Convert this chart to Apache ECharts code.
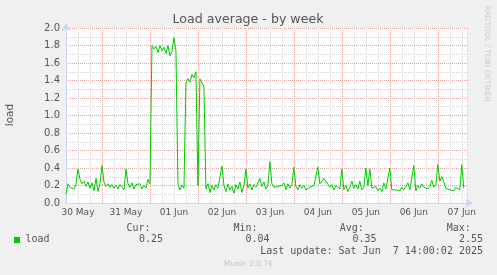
<!DOCTYPE html>
<html><head><meta charset="utf-8">
<script src="https://cdn.jsdelivr.net/npm/echarts@6/dist/echarts.min.js"></script>
<style>html,body{margin:0;padding:0;background:#f0f0f0;}#c{width:497px;height:275px;}</style>
</head><body><div id="c"></div>
<script>
// hours after 30 May 00:00
const startHour = 6;
const stepHours = 1;
const axisMinHour = 6;
const axisMaxHour = 206.6;
const loadValues = [
 0.10,0.22,0.18,0.20,0.16,0.21,
 0.39,0.27,0.22,0.25,0.19,0.24,
 0.17,0.23,0.14,0.28,0.13,0.22,
 0.43,0.24,0.19,0.22,0.18,0.21,
 0.17,0.20,0.16,0.21,0.19,0.15,
 0.39,0.22,0.18,0.23,0.16,0.21,
 0.19,0.22,0.16,0.20,0.17,0.27,
 0.22,1.80,1.76,1.79,1.72,1.80,
 1.74,1.78,1.71,1.80,1.68,1.73,
 1.89,1.74,0.22,0.15,0.20,0.17,
 1.38,1.42,1.38,1.47,1.43,1.50,
 0.20,1.42,1.40,1.33,0.16,0.22,
 0.12,0.20,0.15,0.21,0.17,0.19,
 0.42,0.20,0.13,0.22,0.15,0.19,
 0.11,0.21,0.16,0.24,0.12,0.20,
 0.39,0.17,0.22,0.15,0.21,0.18,
 0.23,0.28,0.19,0.24,0.16,0.20,
 0.47,0.22,0.18,0.17,0.19,0.18,
 0.20,0.23,0.15,0.22,0.17,0.21,
 0.41,0.19,0.15,0.21,0.17,0.20,
 0.15,0.16,0.18,0.20,0.20,0.19,
 0.41,0.22,0.24,0.28,0.25,0.27,
 0.18,0.21,0.15,0.20,0.19,0.16,
 0.39,0.15,0.20,0.13,0.18,0.25,
 0.17,0.21,0.16,0.25,0.15,0.18,
 0.40,0.20,0.39,0.17,0.15,0.19,
 0.14,0.17,0.13,0.23,0.16,0.15,
 0.40,0.15,0.14,0.15,0.16,0.14,
 0.18,0.15,0.14,0.23,0.15,0.17,
 0.43,0.14,0.20,0.17,0.22,0.18,
 0.20,0.16,0.19,0.26,0.18,0.21,
 0.44,0.25,0.30,0.24,0.17,0.19,
 0.15,0.17,0.14,0.18,0.16,0.15,
 0.44,0.17
];
const dayLabels = ['30 May','31 May','01 Jun','02 Jun','03 Jun','04 Jun','05 Jun','06 Jun','07 Jun'];
const midnightHours = [24, 48, 72, 96, 120, 144, 168, 192];
const yTickLabels = ['0.0','0.2','0.4','0.6','0.8','1.0','1.2','1.4','1.6','1.8','2.0'];
const seriesName = 'load';
const statLabels = ['Cur:','Min:','Avg:','Max:'];
const statValues = ['0.25','0.04','0.35','2.55'];
const titleText = 'Load average - by week';
const lastUpdate = 'Last update: Sat Jun  7 14:00:02 2025';
const footer = 'Munin 2.0.76';
const sideText = 'RRDTOOL / TOBI OETIKER';

const data = loadValues.map((v, i) => [startHour + i * stepHours, v]);
const MINOR = '#d4d4d4';
const MAJOR = '#e6a0a0';
const AXIS = '#cdd3f2';
const FONT = '#555555';
const MONO = '10px "DejaVu Sans Mono"';

const chart = echarts.init(document.getElementById('c'), null, {renderer: 'canvas'});
const statX = [126.5, 233.5, 339.8, 446.8];
const valX = [163, 269.5, 376.5, 483];
const graphic = [
  {type:'text', x:248, y:19.5, style:{text:titleText, fill:FONT, font:'12.6px "DejaVu Sans"', textAlign:'center', textVerticalAlign:'middle', align:'center', verticalAlign:'middle'}},
  {type:'text', x:10.7, y:115, rotation:Math.PI/2, style:{text:'load', fill:FONT, font:'10.5px "DejaVu Sans"', textAlign:'center', textVerticalAlign:'middle', align:'center', verticalAlign:'middle'}},
  {type:'text', x:487, y:53.5, rotation:-Math.PI/2, style:{text:sideText, fill:'#cccccc', font:'7.5px "DejaVu Sans"', textAlign:'center', textVerticalAlign:'middle', align:'center', verticalAlign:'middle'}},
  {type:'rect', shape:{x:14, y:237, width:6, height:6}, style:{fill:'#00cc00'}},
  {type:'text', x:25.5, y:239.5, style:{text:seriesName, fill:FONT, font:MONO, textAlign:'left', textVerticalAlign:'middle', align:'left', verticalAlign:'middle'}},
  {type:'text', x:483, y:251.5, style:{text:lastUpdate, fill:FONT, font:MONO, textAlign:'right', textVerticalAlign:'middle', align:'right', verticalAlign:'middle'}},
  {type:'text', x:248.5, y:264.5, style:{text:footer, fill:'#c4c4c4', font:'7.5px "DejaVu Sans"', textAlign:'center', textVerticalAlign:'middle', align:'center', verticalAlign:'middle'}}
];
statLabels.forEach((t, i) => {
  graphic.push({type:'text', x:statX[i], y:228.5, style:{text:t, fill:FONT, font:MONO, textAlign:'left', textVerticalAlign:'middle', align:'left', verticalAlign:'middle'}});
  graphic.push({type:'text', x:valX[i], y:239.5, style:{text:statValues[i], fill:FONT, font:MONO, textAlign:'right', textVerticalAlign:'middle', align:'right', verticalAlign:'middle'}});
});

chart.setOption({
  animation: false,
  backgroundColor: '#f0f0f0',
  grid: {left:66, right:30, top:28, bottom:72, show:true, backgroundColor:'#ffffff', borderWidth:0},
  xAxis: {
    type:'value', min:axisMinHour, max:axisMaxHour, interval:6,
    axisLine:{show:true, lineStyle:{color:AXIS, width:1}, symbol:['none','arrow'], symbolSize:[7,8], symbolOffset:[0,6]},
    axisTick:{show:false},
    axisLabel:{show:true, color:FONT, fontSize:9, fontFamily:'DejaVu Sans', margin:5, hideOverlap:false, showMinLabel:true, showMaxLabel:true,
      formatter: v => { const k = (Math.round(v) - 12) / 24; return (Number.isInteger(k) && k >= 0 && k < dayLabels.length) ? dayLabels[k] : ''; }},
    splitLine:{show:true, lineStyle:{color:MINOR, type:[1,1], width:1}}
  },
  yAxis: [{
    type:'value', min:0, max:2, interval:0.1,
    axisLine:{show:true, lineStyle:{color:AXIS, width:1}, symbol:['none','arrow'], symbolSize:[7,8], symbolOffset:[0,5]},
    axisTick:{show:false},
    axisLabel:{show:false},
    splitLine:{show:true, lineStyle:{color:MINOR, type:[1,1], width:1}}
  }, {
    type:'value', min:0, max:2, interval:0.2, position:'left',
    axisLine:{show:false}, axisTick:{show:false},
    axisLabel:{show:true, color:FONT, fontSize:10, fontFamily:'DejaVu Sans', margin:6,
      formatter: v => yTickLabels[Math.round(v * 5)]},
    splitLine:{show:true, lineStyle:{color:MAJOR, type:[1,1], width:1}}
  }],
  series: [{
    type:'line', name:seriesName, data:data, showSymbol:false, silent:true, yAxisIndex:0,
    lineStyle:{color:'#00cc00', width:1}, z:5,
    markLine:{silent:true, symbol:['none','none'], label:{show:false}, animation:false, z:1,
      lineStyle:{color:MAJOR, type:[1,1], width:1},
      data: midnightHours.map(h => ({xAxis:h}))}
  }],
  graphic: graphic
});
</script></body></html>
